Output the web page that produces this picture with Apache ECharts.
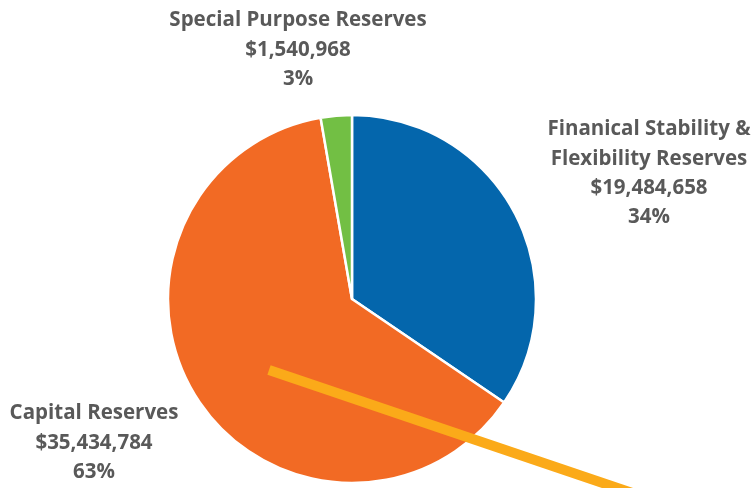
<!DOCTYPE html>
<html>
<head>
<meta charset="utf-8">
<script src="https://cdn.jsdelivr.net/npm/echarts@6/dist/echarts.min.js"></script>
<style>
  html, body { margin: 0; padding: 0; background: #fff; }
  #chart { width: 754px; height: 488px; }
</style>
</head>
<body>
<div id="chart"></div>
<script>
// Reserve balances by fund type
const categories = [
  'Finanical Stability &\nFlexibility Reserves',
  'Capital Reserves',
  'Special Purpose Reserves'
];
const amounts = [19484658, 35434784, 1540968];
const percentLabels = ['34%', '63%', '3%'];
const sliceColors = ['#0466AC', '#F26A24', '#72BF44'];

// Where each slice's label block is centred (x, top y)
const labelAnchors = [
  { x: 649, y: 115 },
  { x: 94, y: 399 },
  { x: 298, y: 6 }
];

function money(v) {
  return '$' + v.toLocaleString('en-US');
}

const chart = echarts.init(document.getElementById('chart'));
chart.setOption({
  animation: false,
  series: [{
    type: 'pie',
    center: [352, 299],
    radius: 184,
    startAngle: 90,
    clockwise: true,
    data: categories.map((name, i) => ({
      name: name,
      value: amounts[i],
      itemStyle: { color: sliceColors[i] }
    })),
    itemStyle: { borderColor: '#fff', borderWidth: 2.5 },
    label: {
      show: true,
      formatter: p => p.name + '\n' + money(p.value) + '\n' + percentLabels[p.dataIndex],
      fontFamily: 'Open Sans',
      fontWeight: 'bold',
      fontSize: 20.5,
      lineHeight: 29.3,
      color: '#595959',
      align: 'center',
      overflow: 'none',
      width: 300
    },
    labelLine: { show: false },
    labelLayout: p => ({
      x: labelAnchors[p.dataIndex].x,
      y: labelAnchors[p.dataIndex].y,
      align: 'center',
      verticalAlign: 'top'
    }),
    emphasis: { disabled: true }
  }],
  graphic: [{
    type: 'line',
    shape: { x1: 269, y1: 370, x2: 650, y2: 499 },
    style: { stroke: '#FBAA19', lineWidth: 10, lineCap: 'butt' },
    z: 100
  }]
});
</script>
</body>
</html>
